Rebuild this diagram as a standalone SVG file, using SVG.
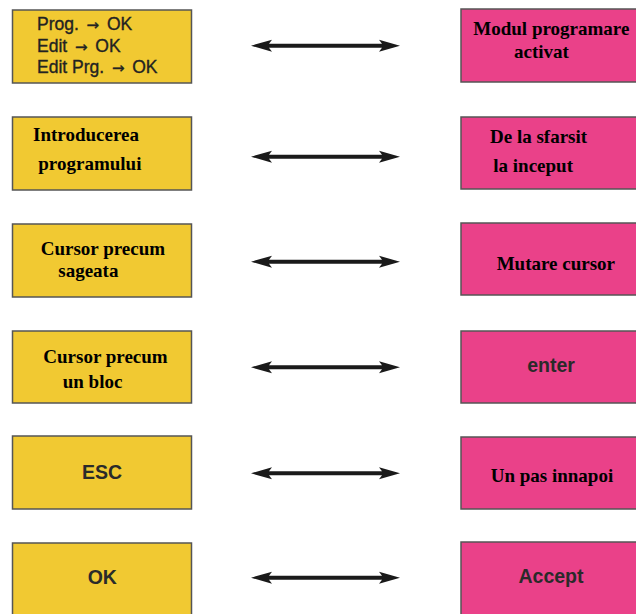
<svg xmlns="http://www.w3.org/2000/svg" xmlns:xlink="http://www.w3.org/1999/xlink" width="636" height="614" viewBox="0 0 636 614">
<style>
.y{fill:#F1C932;stroke:#555;stroke-width:1.5}
.p{fill:#EA4189;stroke:#555;stroke-width:1.5}
.s{font-family:"Liberation Sans",Arial,sans-serif;font-size:17.5px;fill:#222;stroke:#222;stroke-width:0.35}
.ar{font-family:"DejaVu Sans",sans-serif;font-size:15px;word-spacing:3px}
.sb{font-family:"Liberation Sans",Arial,sans-serif;font-weight:bold;font-size:19.5px;fill:#2a2a2a}
.t{font-family:"Liberation Serif","Times New Roman",serif;font-weight:bold;font-size:19px;fill:#000}
.a{fill:#1a1a1a}
</style>
<defs>
<path id="dbl" d="M251,0 L272,-6 L269,-2 L382,-2 L379,-6 L400,0 L379,6 L382,2 L269,2 L272,6 Z"/>
</defs>
<rect width="636" height="614" fill="#fff"/>
<g id="connectors" class="a">
<use xlink:href="#dbl" href="#dbl" transform="translate(0,45.7)"/>
<use xlink:href="#dbl" href="#dbl" transform="translate(0,156.7)"/>
<use xlink:href="#dbl" href="#dbl" transform="translate(0,261.7)"/>
<use xlink:href="#dbl" href="#dbl" transform="translate(0,367.3)"/>
<use xlink:href="#dbl" href="#dbl" transform="translate(0,473.3)"/>
<use xlink:href="#dbl" href="#dbl" transform="translate(0,577.7)"/>
</g>
<g id="l1"><rect class="y" x="12.5" y="10" width="179" height="73"/>
<text class="s" x="37" y="30">Prog.<tspan class="ar"> → </tspan>OK</text>
<text class="s" x="37" y="51.5">Edit<tspan class="ar"> → </tspan>OK</text>
<text class="s" x="37" y="72.5">Edit Prg.<tspan class="ar"> → </tspan>OK</text></g>
<g id="l2"><rect class="y" x="12.5" y="117" width="179" height="73"/>
<text class="t" x="33" y="140.7">Introducerea</text>
<text class="t" x="38.3" y="170">programului</text></g>
<g id="l3"><rect class="y" x="12.5" y="224" width="179" height="73"/>
<text class="t" x="40.7" y="255">Cursor precum</text>
<text class="t" x="58.3" y="276.7">sageata</text></g>
<g id="l4"><rect class="y" x="12.5" y="331" width="179" height="72"/>
<text class="t" x="43.3" y="363.3">Cursor precum</text>
<text class="t" x="62.7" y="388.3">un bloc</text></g>
<g id="l5"><rect class="y" x="12.5" y="436" width="179" height="73"/>
<text class="sb" x="102" y="479" text-anchor="middle">ESC</text></g>
<g id="l6"><rect class="y" x="12.5" y="543" width="179" height="75"/>
<text class="sb" x="102.3" y="584.3" text-anchor="middle">OK</text></g>
<g id="r1"><rect class="p" x="461" y="9" width="180" height="73"/>
<text class="t" x="473.3" y="35">Modul programare</text>
<text class="t" x="514" y="58.3">activat</text></g>
<g id="r2"><rect class="p" x="461" y="117" width="180" height="72"/>
<text class="t" x="490" y="143.3">De la sfarsit</text>
<text class="t" x="493.3" y="171.7">la inceput</text></g>
<g id="r3"><rect class="p" x="461" y="223" width="180" height="72"/>
<text class="t" x="496.7" y="270">Mutare cursor</text></g>
<g id="r4"><rect class="p" x="461" y="331" width="180" height="72"/>
<text class="sb" x="551" y="371.7" text-anchor="middle" fill="#333">enter</text></g>
<g id="r5"><rect class="p" x="461" y="437" width="180" height="72"/>
<text class="t" x="490.7" y="481.7">Un pas innapoi</text></g>
<g id="r6"><rect class="p" x="461" y="542" width="180" height="76"/>
<text class="sb" x="551" y="583.3" text-anchor="middle">Accept</text></g>
</svg>
